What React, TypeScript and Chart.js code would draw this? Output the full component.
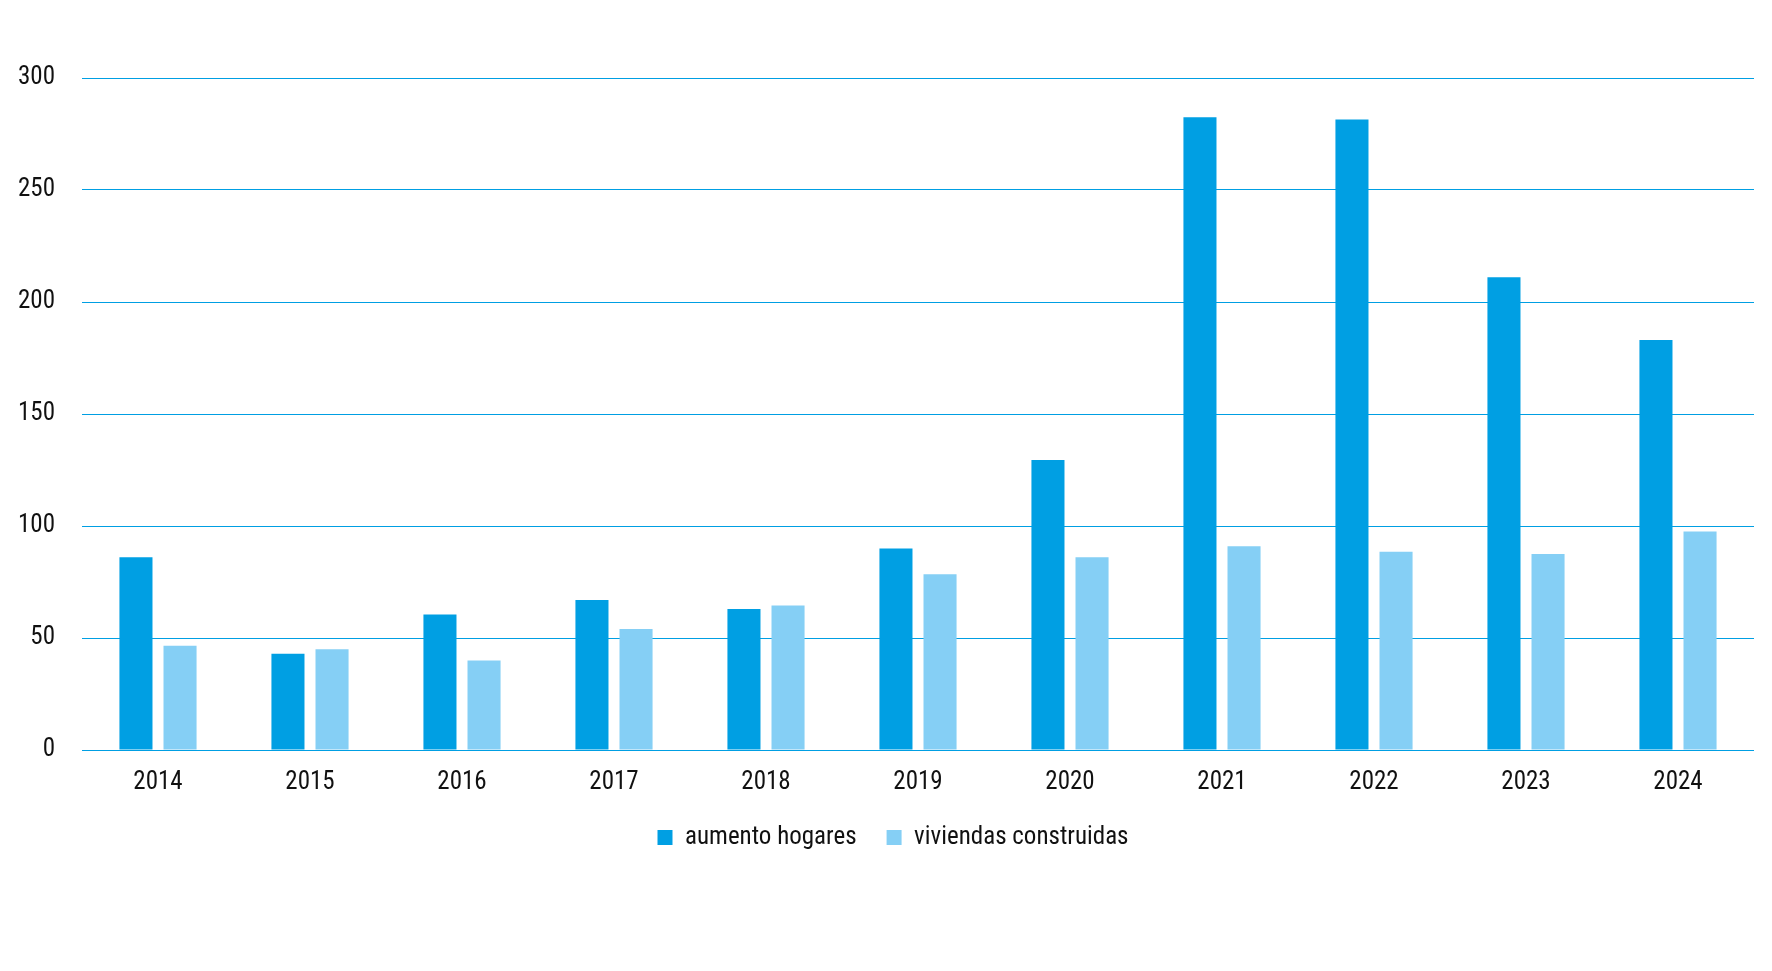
import React, { useEffect, useRef } from "react";
import { Chart, registerables } from "chart.js";

Chart.register(...registerables);

const categories = ["2014", "2015", "2016", "2017", "2018", "2019", "2020", "2021", "2022", "2023", "2024"];
const aumentoHogares = [86, 43, 60.5, 67, 63, 90, 129.5, 282.5, 281.5, 211, 183];
const viviendasConstruidas = [46.5, 45, 40, 54, 64.5, 78.5, 86, 91, 88.5, 87.5, 97.5];
const seriesNames = ["aumento hogares", "viviendas construidas"];

const FONT = '"Roboto Condensed", "Liberation Sans Narrow", "Arial Narrow", Roboto, sans-serif';

// nudges the centred legend a little to the right, as in the original
const legendNudge = {
  id: "legendNudge",
  afterLayout(chart: any) {
    const l = chart.legend;
    if (l) l.left += 24;
  },
};

export default function App() {
  const ref = useRef<HTMLCanvasElement | null>(null);
  useEffect(() => {
    if (!ref.current) return;
    const chart = new Chart(ref.current, {
      type: "bar",
      data: {
        labels: categories,
        datasets: [
          {
            label: seriesNames[0],
            data: aumentoHogares,
            backgroundColor: "#009fe3",
            categoryPercentage: 0.58,
            barPercentage: 0.75,
          },
          {
            label: seriesNames[1],
            data: viviendasConstruidas,
            backgroundColor: "#85cff5",
            categoryPercentage: 0.58,
            barPercentage: 0.75,
          },
        ],
      },
      options: {
        animation: false,
        responsive: true,
        maintainAspectRatio: false,
        layout: { padding: { top: 70, right: 10, bottom: 103, left: 0 } },
        plugins: {
          tooltip: { enabled: false },
          legend: {
            position: "bottom",
            labels: {
              boxWidth: 15,
              boxHeight: 15,
              padding: 30,
              color: "#111",
              font: { family: FONT, size: 25 },
            },
          },
        },
        scales: {
          x: {
            grid: { display: false, drawTicks: false },
            border: { display: false },
            ticks: { color: "#111", padding: 18, font: { family: FONT, size: 25 } },
            afterFit: (s: any) => {
              s.height = 45;
            },
          },
          y: {
            min: 0,
            max: 300,
            grid: { color: "#009fe3", lineWidth: 1, drawTicks: false },
            border: { display: false },
            ticks: { stepSize: 50, color: "#111", padding: 27, font: { family: FONT, size: 25 } },
            afterFit: (s: any) => {
              s.width = 74;
            },
          },
        },
      },
      plugins: [legendNudge],
    });
    return () => chart.destroy();
  }, []);
  return (
    <div style={{ position: "relative", width: "100%", height: 955 }}>
      <canvas ref={ref} />
    </div>
  );
}
